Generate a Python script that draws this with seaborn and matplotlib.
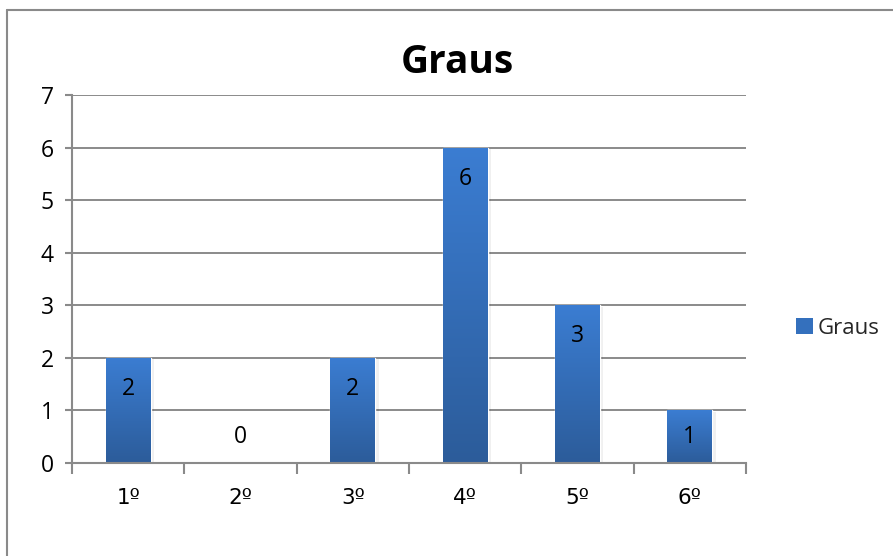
import matplotlib
matplotlib.use("Agg")
import matplotlib.pyplot as plt
import seaborn as sns
import numpy as np
import pandas as pd
from matplotlib.patches import Patch
from matplotlib.lines import Line2D
from matplotlib.colors import LinearSegmentedColormap

categories = ["1º", "2º", "3º", "4º", "5º", "6º"]
values = [2, 0, 2, 6, 3, 1]
series_name = "Graus"
title = "Graus"
yticks = [0, 1, 2, 3, 4, 5, 6, 7]

sns.set_theme(style="white")
plt.rcParams['font.family'] = ['Open Sans', 'DejaVu Sans']
TICKFONT = ['DejaVu Sans']

df = pd.DataFrame({"cat": categories, "val": values})

fig = plt.figure(figsize=(8.93, 5.56), dpi=100)
ax = fig.add_axes([0.0806, 0.1673, 0.7548, 0.6619])

sns.barplot(data=df, x="cat", y="val", color="#3a78c8", width=0.40, ax=ax,
            saturation=1, zorder=3)

cmap = LinearSegmentedColormap.from_list("g", ["#2c5c9a", "#3b7dd2"])
grad = np.linspace(0, 1, 256).reshape(-1, 1)
for p in ax.patches:
    x0, y0 = p.get_x(), p.get_y()
    w, h = p.get_width(), p.get_height()
    if h <= 0:
        continue
    ax.add_patch(plt.Rectangle((x0 + 0.01, y0), w + 0.02, h - 0.03,
                               facecolor="#000000", alpha=0.06, zorder=2.5,
                               edgecolor="none"))
    im = ax.imshow(grad, extent=[x0, x0 + w, y0, y0 + h], origin="lower",
                   cmap=cmap, aspect="auto", zorder=3.5)
    im.set_clip_path(p)

FS = 16.5
ax.set_xlim(-0.5, len(categories) - 0.5)
ax.set_ylim(0, 7)
ax.set_yticks(yticks)
ax.set_yticklabels([str(t) for t in yticks], fontsize=FS, color="#000000")

ax.set_xticks(np.arange(-0.5, len(categories), 1.0))
ax.set_xticklabels([])
ax.set_xticks(np.arange(len(categories)), minor=True)
ax.set_xticklabels(categories, minor=True, fontsize=15.5, color="#000000",
                   family=TICKFONT)
ax.tick_params(axis="x", which="major", direction="out", length=8, width=1.5,
               color="#8a8a8a", bottom=True)
ax.tick_params(axis="x", which="minor", length=0, pad=18)
ax.tick_params(axis="y", direction="out", length=5, width=1.5, color="#8a8a8a",
               left=True, pad=8)
ax.set_xlabel("")
ax.set_ylabel("")

ax.grid(axis="y", color="#8a8a8a", linewidth=1.4, zorder=1)
ax.set_axisbelow(True)
for s in ["top", "right"]:
    ax.spines[s].set_visible(False)
for s in ["left", "bottom"]:
    ax.spines[s].set_color("#8a8a8a")
    ax.spines[s].set_linewidth(1.5)
    ax.spines[s].set_zorder(5)

for i, v in enumerate(values):
    ypos = max(v - 0.59, 0.5)
    ax.text(i, ypos, str(v), ha="center", va="center", fontsize=FS,
            color="#000000", zorder=6)

fig.text(0.512, 0.888, title, ha="center", va="center", fontsize=28,
         fontweight="bold", color="#000000")

handle = Patch(facecolor="#3470bd", edgecolor="none")
fig.legend([handle], [series_name], loc="center left",
           bbox_to_anchor=(0.869, 0.41), frameon=False, fontsize=16,
           handlelength=0.75, handleheight=0.75, handletextpad=0.2)

fig.add_artist(Line2D([0.0078, 0.0078], [0, 0.982], transform=fig.transFigure,
                      color="#8a8a8a", linewidth=1.5))
fig.add_artist(Line2D([0.0078, 1.0], [0.982, 0.982], transform=fig.transFigure,
                      color="#8a8a8a", linewidth=1.5))

fig.savefig("out.png", dpi=100)
